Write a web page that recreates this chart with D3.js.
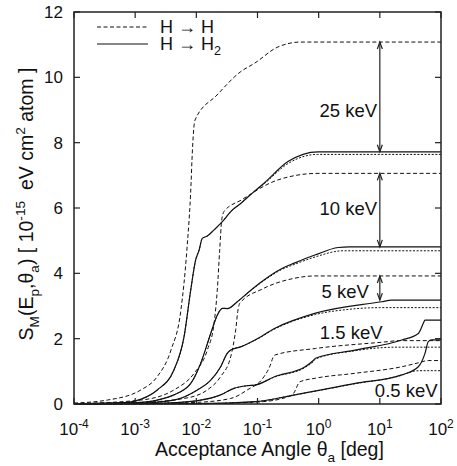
<!DOCTYPE html>
<html>
<head>
<meta charset="utf-8">
<script src="https://cdn.jsdelivr.net/npm/d3@7"></script>
<style>
  body { margin: 0; background: #fff; }
  svg { display: block; font-family: "Liberation Sans", Arial, sans-serif; }
</style>
</head>
<body>
<div id="chart"></div>
<script>
// values: [acceptance angle (deg), S_M (1e-15 eV cm2/atom)]
const hh25 = [[1e-4,0.03],[3.5e-4,0.12],[1.24e-3,0.43],[2.28e-3,0.83],[3.85e-3,1.65],[5.6e-3,2.88],[7.0e-3,4.71],[8.2e-3,6.76],[8.5e-3,7.5],[9.5e-3,8.69],[0.0218,9.46],[0.052,10.16],[0.091,10.44],[0.216,10.93],[0.51,11.08],[100,11.08]];
const hh2_25 = [[1e-4,0.01],[6.6e-4,0.04],[1.26e-3,0.15],[2.3e-3,0.43],[4.3e-3,1.04],[6.3e-3,2.06],[8.1e-3,3.49],[9.75e-3,4.41],[0.0111,4.71],[0.0125,5.07],[0.0151,5.14],[0.0195,5.33],[0.0266,5.58],[0.0365,5.89],[0.0531,6.14],[0.0877,6.5],[0.128,6.76],[0.315,7.42],[0.975,7.72],[100,7.72]];
const dot25 = [[1e-4,0.01],[6.6e-4,0.04],[1.26e-3,0.15],[2.3e-3,0.43],[4.3e-3,1.04],[6.3e-3,2.06],[8.1e-3,3.49],[9.75e-3,4.41],[0.0111,4.71],[0.0125,5.07],[0.0151,5.14],[0.0195,5.33],[0.0266,5.58],[0.0365,5.89],[0.0531,6.14],[0.0877,6.5],[0.128,6.74],[0.315,7.36],[0.95,7.64],[100,7.64]];

const hh10 = [[1e-4,0.01],[1.23e-3,0.12],[4.3e-3,0.43],[9.2e-3,0.94],[0.0151,1.65],[0.0195,2.47],[0.022,3.49],[0.0241,4.71],[0.026,5.63],[0.0283,5.89],[0.055,6.25],[0.216,6.86],[0.975,7.06],[100,7.06]];
const hh2_10 = [[1e-4,0.005],[1e-3,0.04],[2.3e-3,0.12],[4.3e-3,0.28],[8.1e-3,0.63],[0.0118,1.25],[0.0172,2.16],[0.022,2.72],[0.0266,2.93],[0.032,2.92],[0.0468,3.13],[0.068,3.39],[0.112,3.72],[0.251,4.15],[0.41,4.32],[0.87,4.56],[2.09,4.79],[3.2,4.81],[100,4.81]];
const dot10 = [[1e-4,0.005],[1e-3,0.04],[2.3e-3,0.12],[4.3e-3,0.28],[8.1e-3,0.63],[0.0118,1.25],[0.0172,2.16],[0.022,2.72],[0.0266,2.93],[0.032,2.92],[0.0468,3.13],[0.068,3.39],[0.112,3.7],[0.251,4.12],[0.41,4.28],[0.87,4.5],[2.5,4.69],[100,4.69]];

const hh5 = [[1e-4,0.005],[1e-3,0.04],[6.3e-3,0.17],[0.0151,0.43],[0.025,0.84],[0.0365,1.45],[0.044,2.27],[0.048,2.88],[0.0512,3.08],[0.12,3.52],[0.405,3.85],[0.86,3.92],[100,3.92]];
const hh2_5 = [[1e-4,0.003],[1e-3,0.02],[4.3e-3,0.12],[0.0104,0.43],[0.0172,0.73],[0.025,1.14],[0.032,1.55],[0.0365,1.65],[0.0531,1.75],[0.091,1.96],[0.193,2.32],[0.89,2.78],[10.7,3.13],[15.6,3.18],[100,3.18]];
const dot5 = [[1e-4,0.003],[1e-3,0.02],[4.3e-3,0.12],[0.0104,0.43],[0.0172,0.73],[0.025,1.14],[0.032,1.55],[0.0365,1.65],[0.0531,1.75],[0.091,1.95],[0.193,2.3],[0.89,2.74],[3.2,2.9],[10,2.95],[100,2.95]];

const hh15 = [[1e-4,0],[1e-3,0.01],[0.01,0.05],[0.0365,0.17],[0.068,0.43],[0.128,0.84],[0.162,1.19],[0.178,1.41],[0.193,1.5],[0.89,1.7],[13.8,1.91],[20,1.94],[100,1.94]];
const hh2_15 = [[1e-4,0],[1e-3,0.01],[3.2e-3,0.03],[0.0118,0.12],[0.025,0.28],[0.0413,0.48],[0.068,0.56],[0.091,0.58],[0.193,0.84],[0.6,1.14],[0.817,1.33],[0.89,1.4],[3.93,1.65],[22.9,1.96],[42.6,2.16],[51.4,2.47],[54.7,2.57],[100,2.57]];
const dot15 = [[1e-4,0],[1e-3,0.01],[3.2e-3,0.03],[0.0118,0.12],[0.025,0.28],[0.0413,0.48],[0.068,0.56],[0.091,0.58],[0.193,0.83],[0.6,1.12],[0.817,1.3],[0.89,1.38],[3.93,1.63],[10,1.72],[20,1.74],[100,1.74]];

const hh05 = [[1e-4,0],[0.01,0.01],[0.1,0.06],[0.315,0.22],[0.39,0.33],[0.494,0.68],[0.89,0.79],[3.93,0.94],[22.8,1.14],[42.6,1.26],[61.7,1.33],[100,1.33]];
const hh2_05 = [[1e-4,0],[0.01,0.01],[0.091,0.07],[0.41,0.28],[3.93,0.63],[22.8,0.89],[42.6,1.14],[54.7,1.55],[62,1.91],[70,1.96],[100,1.96]];
const dot05 = [[1e-4,0],[0.01,0.01],[0.091,0.07],[0.41,0.28],[3.93,0.62],[22.8,0.88],[35,1.0],[45,1.02],[100,1.02]];

const energies = ['25 keV', '10 keV', '5 keV', '1.5 keV', '0.5 keV'];
const xTicks = [1e-4, 1e-3, 1e-2, 1e-1, 1e0, 1e1, 1e2];
const yTicks = [0, 2, 4, 6, 8, 10, 12];
// energy label anchor points [angle, S]
const labelAt = [[9, 9.0], [9, 6.0], [6.6, 3.45], [3.4, 2.2], [88, 0.43]];
const labelAnchor = ['end', 'end', 'end', 'middle', 'end'];
const arrowAngle = 10;

const width = 457, height = 466;
const margin = { top: 12, right: 16, bottom: 62, left: 74 };

const svg = d3.select('#chart').append('svg')
  .attr('width', width)
  .attr('height', height);

const x = d3.scaleLog().domain([1e-4, 1e2]).range([margin.left, width - margin.right]);
const y = d3.scaleLinear().domain([0, 12]).range([height - margin.bottom, margin.top]);

const ink = '#111';
const styles = {
  dashed: { dash: '4,2.5', w: 1 },
  solid: { dash: null, w: 1.2 },
  dotted: { dash: '2,1.6', w: 1 }
};

const series = [
  { v: hh25, s: 'dashed' }, { v: dot25, s: 'dotted' }, { v: hh2_25, s: 'solid' },
  { v: hh10, s: 'dashed' }, { v: dot10, s: 'dotted' }, { v: hh2_10, s: 'solid' },
  { v: hh5, s: 'dashed' }, { v: dot5, s: 'dotted' }, { v: hh2_5, s: 'solid' },
  { v: hh15, s: 'dashed' }, { v: dot15, s: 'dotted' }, { v: hh2_15, s: 'solid' },
  { v: hh05, s: 'dashed' }, { v: dot05, s: 'dotted' }, { v: hh2_05, s: 'solid' }
];

const line = d3.line()
  .x(d => x(d[0]))
  .y(d => y(d[1]))
  .curve(d3.curveMonotoneX);

svg.append('g')
  .selectAll('path')
  .data(series)
  .join('path')
  .attr('d', d => line(d.v))
  .attr('fill', 'none')
  .attr('stroke', ink)
  .attr('stroke-width', d => styles[d.s].w)
  .attr('stroke-dasharray', d => styles[d.s].dash);

// arrows between H->H and H->H2 plateaus
const plateaus = [
  [hh25, hh2_25], [hh10, hh2_10], [hh5, hh2_5]
].map(p => [p[0][p[0].length - 1][1], p[1][p[1].length - 1][1]]);

const ag = svg.append('g').attr('stroke', '#222').attr('fill', 'none').attr('stroke-width', 1.2);
plateaus.forEach(([top, bot]) => {
  const ax = x(arrowAngle), y1 = y(top), y2 = y(bot);
  ag.append('line').attr('x1', ax).attr('x2', ax).attr('y1', y1).attr('y2', y2);
  ag.append('path').attr('d', `M${ax - 2.5},${y1 + 7}L${ax},${y1}L${ax + 2.5},${y1 + 7}`);
  ag.append('path').attr('d', `M${ax - 2.5},${y2 - 7}L${ax},${y2}L${ax + 2.5},${y2 - 7}`);
});

// energy labels
svg.append('g')
  .selectAll('text')
  .data(energies)
  .join('text')
  .attr('x', (d, i) => x(labelAt[i][0]))
  .attr('y', (d, i) => y(labelAt[i][1]))
  .attr('dy', '0.36em')
  .attr('text-anchor', (d, i) => labelAnchor[i])
  .attr('font-size', 18.5)
  .attr('fill', ink)
  .text(d => d);

// frame and ticks
const x0 = margin.left, x1 = width - margin.right, y0 = height - margin.bottom, y1 = margin.top;
const tk = 6;
const fg = svg.append('g').attr('stroke', '#222').attr('stroke-width', 1.2);
xTicks.forEach(t => {
  fg.append('line').attr('x1', x(t)).attr('x2', x(t)).attr('y1', y0).attr('y2', y0 - tk);
  fg.append('line').attr('x1', x(t)).attr('x2', x(t)).attr('y1', y1).attr('y2', y1 + tk);
});
yTicks.forEach(t => {
  fg.append('line').attr('x1', x0).attr('x2', x0 + tk).attr('y1', y(t)).attr('y2', y(t));
  fg.append('line').attr('x1', x1).attr('x2', x1 - tk).attr('y1', y(t)).attr('y2', y(t));
});
svg.append('rect')
  .attr('x', x0).attr('y', y1)
  .attr('width', x1 - x0).attr('height', y0 - y1)
  .attr('fill', 'none').attr('stroke', '#222').attr('stroke-width', 1.5);

// tick labels
svg.append('g')
  .selectAll('text')
  .data(xTicks)
  .join('text')
  .attr('x', d => x(d))
  .attr('y', 435)
  .attr('text-anchor', 'middle')
  .attr('font-size', 17)
  .attr('fill', ink)
  .each(function (d) {
    const t = d3.select(this);
    t.append('tspan').text('10');
    t.append('tspan').attr('dy', -7).attr('font-size', 12).text(Math.round(Math.log10(d)));
  });

svg.append('g')
  .selectAll('text')
  .data(yTicks)
  .join('text')
  .attr('x', 63)
  .attr('y', d => y(d))
  .attr('dy', '0.36em')
  .attr('text-anchor', 'end')
  .attr('font-size', 17)
  .attr('fill', ink)
  .text(d => d);

// rich text helper: segments of [text, 'sub' | 'sup' | undefined]
function rich(sel, parts, size) {
  let shift = 0;
  parts.forEach(([txt, kind]) => {
    const want = kind === 'sub' ? size * 0.3 : kind === 'sup' ? -size * 0.42 : 0;
    sel.append('tspan')
      .attr('dy', want - shift)
      .attr('font-size', kind ? size * 0.7 : size)
      .text(txt);
    shift = want;
  });
}

const xt = svg.append('text')
  .attr('x', (x0 + x1) / 2 + 12)
  .attr('y', 456)
  .attr('text-anchor', 'middle')
  .attr('fill', ink);
rich(xt, [['Acceptance Angle θ'], ['a', 'sub'], [' [deg]']], 19.5);

const yt = svg.append('text')
  .attr('transform', 'translate(33,204) rotate(-90)')
  .attr('text-anchor', 'middle')
  .attr('fill', ink)
  .attr('xml:space', 'preserve');
rich(yt, [['S'], ['M', 'sub'], ['(E'], ['p', 'sub'], [',θ'], ['a', 'sub'], [') [ 10'], ['-15', 'sup'], ['  eV cm'], ['2', 'sup'], [' atom ]']], 19.5);

// legend
const legendKeys = ['dashed', 'solid'];
const lg = svg.append('g');
legendKeys.forEach((k, i) => {
  const ly = 27 + i * 17;
  lg.append('line')
    .attr('x1', 97).attr('x2', 148).attr('y1', ly).attr('y2', ly)
    .attr('stroke', ink).attr('stroke-width', styles[k].w)
    .attr('stroke-dasharray', styles[k].dash);
  const t = lg.append('text').attr('x', 160).attr('y', ly + 6).attr('fill', ink);
  rich(t, i === 0 ? [['H → H']] : [['H → H'], ['2', 'sub']], 18);
});
</script>
</body>
</html>
